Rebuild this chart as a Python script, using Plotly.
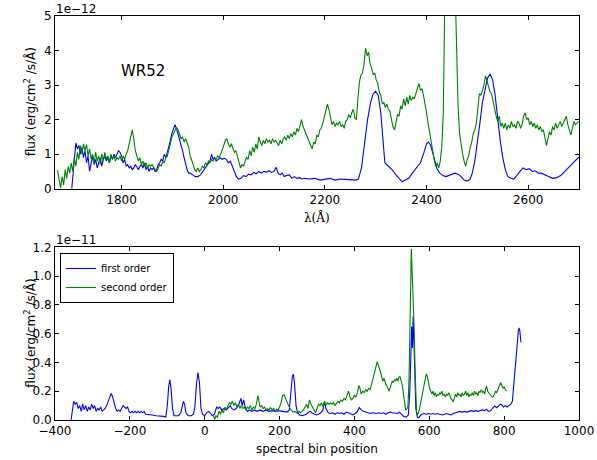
import plotly.graph_objects as go

# ---- top panel: flux vs wavelength (units of 1e-12) ----
top_blue_wave = [1702,1706,1710,1713,1716,1719,1722,1725,1728,1731,1734,1737,1740,1743,1746,1749,1752,1755,1758,1761,1764,1767,1770,1773,1776,1779,1782,1785,1788,1791,1794,1797,1800,1803,1806,1809,1812,1815,1818,1821,1824,1827,1830,1833,1836,1839,1842,1845,1848,1851,1854,1857,1860,1863,1866,1869,1872,1875,1878,1881,1884,1887,1890,1893,1896,1899,1902,1905,1908,1911,1914,1917,1920,1923,1926,1929,1932,1935,1940,1945,1950,1955,1960,1965,1970,1974,1977,1980,1983,1986,1990,1994,1998,2002,2006,2010,2014,2018,2022,2026,2030,2035,2040,2045,2050,2055,2060,2065,2070,2075,2080,2085,2090,2095,2100,2104,2108,2112,2116,2120,2125,2130,2135,2140,2145,2150,2155,2160,2170,2180,2190,2200,2210,2220,2230,2240,2250,2260,2266,2272,2278,2284,2290,2295,2300,2305,2310,2314,2318,2325,2332,2340,2348,2352,2358,2365,2372,2380,2388,2395,2400,2404,2408,2412,2416,2420,2426,2432,2438,2444,2450,2456,2462,2468,2474,2480,2486,2490,2495,2500,2505,2510,2515,2520,2525,2530,2535,2540,2545,2550,2555,2560,2566,2572,2578,2584,2590,2596,2602,2608,2614,2620,2626,2632,2640,2648,2656,2664,2672,2680,2688,2694,2700]
top_blue_flux = [0.0,0.7,1.33,1.15,1.25,1.0,1.2,0.9,1.1,0.75,0.95,0.5,0.8,0.95,0.7,0.85,0.6,0.75,0.9,0.65,0.85,0.95,0.8,0.9,0.75,0.95,0.85,1.0,0.9,1.0,1.1,1.05,0.95,0.75,0.85,0.65,0.7,0.6,0.65,0.55,0.6,0.7,0.6,0.55,0.65,0.7,0.6,0.75,0.55,0.65,0.5,0.6,0.55,0.6,0.5,0.55,0.7,0.75,0.85,0.8,1.0,0.9,1.05,1.2,1.4,1.6,1.75,1.85,1.75,1.6,1.45,1.3,1.1,0.9,0.7,0.55,0.45,0.45,0.4,0.35,0.35,0.4,0.5,0.6,0.7,0.8,1.0,0.85,0.9,0.8,0.85,0.9,0.85,0.88,0.85,0.75,0.8,0.65,0.5,0.35,0.28,0.3,0.38,0.35,0.42,0.4,0.47,0.43,0.5,0.45,0.5,0.48,0.52,0.47,0.5,0.62,0.45,0.4,0.45,0.35,0.38,0.4,0.3,0.35,0.3,0.32,0.28,0.3,0.28,0.3,0.25,0.28,0.3,0.25,0.28,0.27,0.25,0.25,0.28,0.6,1.3,2.0,2.5,2.75,2.82,2.7,2.2,1.4,0.75,0.65,0.55,0.4,0.25,0.2,0.25,0.3,0.45,0.6,0.75,1.05,1.3,1.35,1.25,1.05,0.8,0.6,0.45,0.38,0.35,0.38,0.4,0.45,0.42,0.35,0.25,0.22,0.28,0.45,0.8,1.3,1.9,2.5,2.9,3.2,3.32,3.15,2.7,2.0,1.4,0.9,0.55,0.35,0.3,0.28,0.4,0.5,0.6,0.55,0.58,0.5,0.52,0.45,0.45,0.4,0.35,0.3,0.32,0.38,0.5,0.65,0.75,0.85,0.92]

top_green_wave = [1674,1677,1680,1683,1686,1689,1692,1695,1698,1701,1704,1707,1710,1713,1716,1719,1722,1725,1728,1731,1734,1737,1740,1743,1746,1749,1752,1755,1758,1761,1764,1767,1770,1773,1776,1779,1782,1785,1788,1791,1794,1797,1800,1803,1806,1809,1812,1815,1818,1821,1824,1827,1830,1833,1836,1839,1842,1845,1848,1851,1854,1857,1860,1863,1866,1869,1872,1875,1878,1881,1884,1887,1890,1893,1896,1899,1902,1905,1908,1911,1914,1917,1920,1923,1926,1929,1932,1935,1938,1941,1944,1947,1950,1953,1956,1959,1962,1965,1968,1971,1974,1977,1980,1983,1986,1989,1992,1995,1998,2001,2004,2007,2010,2013,2016,2019,2022,2025,2028,2031,2034,2037,2040,2043,2046,2049,2052,2055,2058,2061,2064,2067,2070,2073,2076,2079,2082,2085,2088,2091,2094,2097,2100,2103,2106,2109,2112,2115,2118,2121,2124,2127,2130,2133,2136,2139,2142,2145,2148,2151,2154,2157,2160,2163,2166,2169,2172,2175,2178,2181,2184,2187,2190,2193,2196,2199,2202,2205,2208,2211,2214,2217,2220,2223,2226,2229,2232,2235,2238,2241,2244,2247,2250,2253,2256,2259,2262,2265,2268,2271,2274,2277,2280,2283,2286,2289,2292,2295,2298,2301,2304,2307,2310,2313,2316,2319,2322,2325,2328,2331,2334,2337,2340,2343,2346,2349,2352,2355,2358,2361,2364,2367,2370,2373,2376,2379,2382,2385,2388,2391,2394,2397,2400,2403,2406,2409,2412,2415,2418,2421,2424,2427,2430,2433,2436,2440,2444,2448,2452,2456,2459,2462,2465,2468,2471,2474,2477,2480,2483,2486,2489,2492,2495,2498,2501,2504,2507,2510,2513,2516,2519,2522,2525,2528,2531,2534,2537,2540,2543,2546,2549,2552,2555,2558,2561,2564,2567,2570,2573,2576,2579,2582,2585,2588,2591,2594,2597,2600,2603,2606,2609,2612,2615,2618,2621,2624,2627,2630,2633,2636,2639,2642,2645,2648,2651,2654,2657,2660,2663,2666,2669,2672,2675,2678,2681,2684,2687,2690,2693,2696,2700]
top_green_flux = [0.54,0.3,0.02,0.35,0.1,0.55,0.3,0.65,0.45,0.75,0.5,0.9,0.65,1.05,0.85,1.25,1.0,1.3,1.1,1.28,0.95,1.15,0.85,1.0,0.75,1.05,0.8,0.95,0.7,1.0,0.8,1.05,0.85,0.95,0.75,1.0,0.85,0.95,0.8,0.9,0.85,0.95,0.8,0.95,0.85,1.0,1.1,1.3,1.5,1.7,1.45,1.1,0.95,0.8,0.9,0.7,0.8,0.65,0.75,0.6,0.7,0.65,0.7,0.6,0.55,0.5,0.6,0.7,0.65,0.8,0.75,0.9,0.95,1.1,1.3,1.5,1.6,1.7,1.78,1.7,1.6,1.45,1.5,1.35,1.45,1.3,1.2,0.95,0.8,0.65,0.55,0.5,0.6,0.5,0.55,0.65,0.6,0.75,0.7,0.8,0.75,0.85,0.8,0.9,0.85,0.95,0.9,1.0,1.1,1.25,1.4,1.45,1.3,1.2,1.3,1.15,1.05,1.1,0.9,0.75,0.6,0.7,0.65,0.8,0.9,0.85,1.1,0.95,1.2,1.05,1.3,1.15,1.5,1.35,1.25,1.4,1.3,1.45,1.35,1.4,1.3,1.45,1.35,1.4,1.3,1.25,1.4,1.3,1.45,1.5,1.4,1.55,1.45,1.6,1.5,1.65,1.55,1.75,1.65,1.85,2.0,1.8,1.7,1.55,1.45,1.35,1.25,1.15,1.35,1.3,1.55,1.5,1.7,1.75,1.9,2.1,2.3,2.45,2.3,2.05,1.85,1.95,1.8,1.9,1.85,1.95,1.8,1.85,1.75,1.95,2.0,2.15,2.05,2.2,2.3,2.05,2.0,2.6,3.1,3.3,3.35,3.6,4.07,3.85,3.95,3.6,3.5,3.3,3.35,3.15,3.05,2.8,2.7,2.45,2.5,2.35,2.45,2.3,2.25,2.0,1.8,1.7,1.95,2.15,2.1,2.4,2.3,2.6,2.4,2.65,2.45,2.7,2.55,2.65,2.6,2.75,2.9,3.05,2.85,2.9,2.7,2.5,2.2,1.9,1.6,1.35,1.1,0.85,0.65,0.75,0.6,0.8,1.2,2.2,5.5,9.5,11.5,11.0,9.0,6.0,4.0,2.4,1.6,1.2,1.0,0.8,0.65,0.85,0.95,1.2,1.35,1.6,1.7,1.9,2.4,2.75,2.7,2.85,3.0,3.27,3.1,2.95,2.8,2.75,2.5,2.35,2.1,1.95,2.1,1.8,1.9,1.75,1.9,1.7,1.85,1.75,1.95,1.8,1.85,1.75,1.95,1.9,1.75,1.85,2.1,2.2,2.0,2.05,1.85,1.95,1.8,1.9,1.75,1.85,1.7,1.8,1.65,1.7,1.5,1.25,1.45,1.65,1.55,1.8,1.7,1.9,1.75,1.85,1.95,1.8,1.9,2.05,2.1,1.85,1.7,1.55,1.75,1.95,1.85,1.9,1.95]

# ---- bottom panel: flux vs spectral bin position (units of 1e-11) ----
bin_blue = [-357,-353,-350,-346,-342,-338,-334,-330,-326,-322,-318,-314,-310,-306,-302,-298,-294,-290,-286,-282,-278,-274,-270,-266,-262,-258,-254,-250,-246,-242,-238,-234,-230,-226,-222,-218,-214,-210,-206,-202,-198,-194,-190,-186,-182,-178,-174,-170,-166,-162,-158,-150,-140,-130,-120,-110,-104,-100,-96,-93,-90,-86,-82,-76,-70,-64,-60,-57,-54,-50,-44,-36,-30,-26,-22,-18,-14,-10,-6,0,5,10,15,20,26,32,36,40,46,52,58,64,68,72,78,84,90,94,97,100,104,108,114,120,126,132,140,148,156,164,172,180,188,196,204,212,220,226,230,234,237,240,244,248,254,260,266,272,278,282,286,292,298,304,310,316,320,324,330,336,342,348,354,360,366,372,378,384,390,396,402,408,413,418,424,430,436,442,448,454,460,466,472,478,484,490,496,502,508,514,520,526,532,538,544,548,551,553,555,557,559,561,564,568,572,576,580,586,592,598,604,610,616,622,628,634,640,646,652,658,664,670,676,682,688,694,700,706,712,718,724,730,736,742,748,753,758,764,770,775,780,786,790,794,798,803,808,813,818,822,826,830,834,838,840,842,844,845]
flux_blue = [0.0,0.08,0.13,0.11,0.12,0.08,0.1,0.06,0.11,0.07,0.1,0.06,0.09,0.07,0.11,0.08,0.1,0.06,0.08,0.07,0.09,0.06,0.07,0.08,0.1,0.13,0.17,0.185,0.16,0.11,0.08,0.06,0.07,0.06,0.08,0.1,0.09,0.08,0.09,0.06,0.05,0.06,0.05,0.06,0.05,0.06,0.05,0.06,0.05,0.06,0.04,0.04,0.035,0.03,0.03,0.025,0.02,0.1,0.24,0.28,0.22,0.08,0.03,0.03,0.03,0.05,0.1,0.13,0.11,0.05,0.03,0.03,0.04,0.1,0.25,0.33,0.26,0.08,0.04,0.03,0.05,0.06,0.05,0.03,0.04,0.09,0.08,0.09,0.07,0.08,0.07,0.09,0.1,0.08,0.07,0.08,0.1,0.13,0.15,0.1,0.14,0.09,0.06,0.07,0.06,0.07,0.06,0.07,0.06,0.07,0.06,0.065,0.06,0.065,0.06,0.06,0.055,0.07,0.18,0.3,0.32,0.25,0.1,0.05,0.035,0.03,0.035,0.04,0.055,0.06,0.05,0.04,0.035,0.04,0.05,0.07,0.13,0.08,0.05,0.045,0.05,0.04,0.05,0.045,0.05,0.04,0.055,0.05,0.04,0.035,0.045,0.06,0.086,0.07,0.06,0.055,0.05,0.045,0.05,0.045,0.045,0.05,0.045,0.05,0.04,0.05,0.055,0.05,0.05,0.045,0.055,0.04,0.025,0.02,0.035,0.2,0.5,0.65,0.5,0.72,0.55,0.3,0.08,0.02,0.015,0.03,0.04,0.045,0.04,0.045,0.04,0.045,0.04,0.045,0.04,0.035,0.04,0.045,0.04,0.035,0.045,0.05,0.055,0.06,0.055,0.06,0.055,0.06,0.065,0.06,0.065,0.06,0.065,0.07,0.065,0.075,0.06,0.065,0.085,0.097,0.085,0.1,0.11,0.105,0.09,0.1,0.09,0.1,0.11,0.13,0.25,0.42,0.55,0.62,0.64,0.62,0.56,0.54]

bin_green = [23,27,30,34,38,42,46,50,54,58,62,66,70,74,78,82,86,90,94,98,102,106,110,114,118,122,126,130,134,138,142,145,148,152,156,160,164,168,172,176,180,184,188,192,196,200,204,208,212,216,220,224,228,232,236,240,244,248,252,256,260,264,268,272,276,280,284,288,292,296,300,304,308,312,316,320,324,328,332,336,340,344,348,352,356,360,364,368,372,376,380,384,388,392,396,400,404,408,412,415,418,422,426,430,434,438,442,446,450,454,458,461,464,467,470,473,476,479,482,485,488,492,495,498,501,504,507,510,513,516,519,522,525,528,531,534,537,540,543,546,548,550,552,554,556,558,560,562,564,566,568,571,574,577,580,584,588,592,595,598,601,604,607,610,613,616,619,622,625,628,631,634,637,640,643,646,649,652,655,658,661,664,667,670,673,676,679,682,685,688,691,694,697,700,703,706,709,712,715,718,721,724,727,730,733,736,739,742,745,748,751,753,756,759,762,765,768,771,774,777,780,783,786,789,791,794,797,800,803,807]
flux_green = [0.035,0.005,0.03,0.02,0.06,0.04,0.07,0.05,0.09,0.07,0.1,0.12,0.11,0.13,0.1,0.12,0.09,0.11,0.08,0.1,0.08,0.09,0.07,0.09,0.08,0.1,0.07,0.09,0.08,0.11,0.17,0.12,0.09,0.1,0.08,0.09,0.07,0.08,0.07,0.085,0.07,0.08,0.06,0.075,0.07,0.09,0.12,0.17,0.175,0.15,0.12,0.1,0.08,0.07,0.055,0.06,0.05,0.045,0.06,0.05,0.06,0.07,0.09,0.11,0.08,0.14,0.11,0.09,0.07,0.05,0.08,0.11,0.1,0.12,0.09,0.13,0.1,0.12,0.11,0.12,0.11,0.12,0.1,0.12,0.13,0.12,0.14,0.13,0.15,0.14,0.17,0.2,0.16,0.14,0.15,0.17,0.16,0.19,0.24,0.22,0.18,0.2,0.19,0.21,0.2,0.22,0.21,0.25,0.3,0.35,0.38,0.405,0.38,0.36,0.33,0.3,0.27,0.29,0.26,0.24,0.23,0.2,0.22,0.25,0.27,0.26,0.28,0.27,0.29,0.27,0.3,0.3,0.27,0.24,0.18,0.1,0.07,0.075,0.09,0.3,0.62,0.95,1.19,1.05,0.9,0.82,0.6,0.35,0.15,0.06,0.035,0.05,0.08,0.12,0.18,0.23,0.27,0.32,0.3,0.25,0.22,0.2,0.18,0.2,0.17,0.19,0.16,0.18,0.17,0.19,0.18,0.2,0.17,0.18,0.16,0.18,0.17,0.19,0.16,0.15,0.14,0.127,0.15,0.18,0.16,0.19,0.17,0.18,0.16,0.19,0.17,0.18,0.2,0.17,0.19,0.16,0.18,0.17,0.19,0.17,0.2,0.18,0.19,0.17,0.2,0.19,0.21,0.19,0.2,0.18,0.22,0.236,0.2,0.19,0.18,0.17,0.16,0.162,0.18,0.2,0.19,0.21,0.23,0.24,0.26,0.24,0.22,0.23,0.21,0.2]

top_xticks = [1800, 2000, 2200, 2400, 2600]
top_yticks = [0, 1, 2, 3, 4, 5]
bot_xticks = [-400, -200, 0, 200, 400, 600, 800, 1000]
bot_yticks = [0.0, 0.2, 0.4, 0.6, 0.8, 1.0, 1.2]

W, H = 597, 460
BLUE = "#0000ff"
GREEN = "#008000"
FONT = "DejaVu Sans"

fig = go.Figure()
fig.add_trace(go.Scatter(x=top_blue_wave, y=top_blue_flux, mode="lines",
                         line=dict(color=BLUE, width=1.1), showlegend=False,
                         xaxis="x", yaxis="y"))
fig.add_trace(go.Scatter(x=top_green_wave, y=top_green_flux, mode="lines",
                         line=dict(color=GREEN, width=1.1), showlegend=False,
                         xaxis="x", yaxis="y"))
fig.add_trace(go.Scatter(x=bin_blue, y=flux_blue, mode="lines", name="first order",
                         line=dict(color=BLUE, width=1.1), xaxis="x2", yaxis="y2"))
fig.add_trace(go.Scatter(x=bin_green, y=flux_green, mode="lines", name="second order",
                         line=dict(color=GREEN, width=1.1), xaxis="x2", yaxis="y2"))

xd = [55 / W, 579 / W]
top_dom = [1 - 188.7 / H, 1 - 16 / H]
bot_dom = [1 - 420 / H, 1 - 247.3 / H]

axis_common = dict(showline=True, mirror="allticks", linecolor="black", linewidth=1,
                   ticks="inside", ticklen=4, tickwidth=1, tickcolor="black",
                   showgrid=False, zeroline=False, automargin=False,
                   tickfont=dict(family=FONT, size=12, color="black"))

fig.update_layout(
    template="none",
    width=W, height=H, margin=dict(l=0, r=0, t=0, b=0, pad=0, autoexpand=False),
    paper_bgcolor="white", plot_bgcolor="white",
    font=dict(family=FONT, size=12, color="black"),
    xaxis=dict(domain=xd, anchor="y", range=[1669, 2700], tickvals=top_xticks, **axis_common),
    yaxis=dict(domain=top_dom, anchor="x", range=[0, 5], tickvals=top_yticks, **axis_common),
    xaxis2=dict(domain=xd, anchor="y2", range=[-400, 1000], tickvals=bot_xticks, **axis_common),
    yaxis2=dict(domain=bot_dom, anchor="x2", range=[0, 1.2], tickvals=bot_yticks,
                tickformat=".1f", **axis_common),
    legend=dict(x=60 / W, y=1 - 253 / H, xanchor="left", yanchor="top",
                bgcolor="white", bordercolor="black", borderwidth=1,
                font=dict(family=FONT, size=10), itemwidth=30,
                tracegroupgap=0),
)

ylab = "flux (erg/cm<sup>2</sup> /s/Å)"
ann = [
    dict(text="1e−12", x=55 / W, y=1 - 17 / H, xanchor="left", yanchor="bottom"),
    dict(text="1e−11", x=55 / W, y=1 - 248 / H, xanchor="left", yanchor="bottom"),
    dict(text=ylab, x=30 / W, y=(top_dom[0] + top_dom[1]) / 2, textangle=-90,
         xanchor="center", yanchor="middle"),
    dict(text=ylab, x=30 / W, y=(bot_dom[0] + bot_dom[1]) / 2, textangle=-90,
         xanchor="center", yanchor="middle"),
    dict(text="λ(Å)", x=317 / W, y=1 - 218 / H, xanchor="center", yanchor="middle",
         font=dict(family="DejaVu Serif", size=12, color="black")),
    dict(text="spectral bin position", x=317 / W, y=1 - 449 / H, xanchor="center",
         yanchor="middle"),
]
for a in ann:
    a.setdefault("font", dict(family=FONT, size=12, color="black"))
    fig.add_annotation(xref="paper", yref="paper", showarrow=False, borderpad=0, **a)

fig.add_annotation(text="WR52", x=1843, y=3.41, xref="x", yref="y", showarrow=False,
                   font=dict(family=FONT, size=15, color="black"))

fig.write_html("out.html")
